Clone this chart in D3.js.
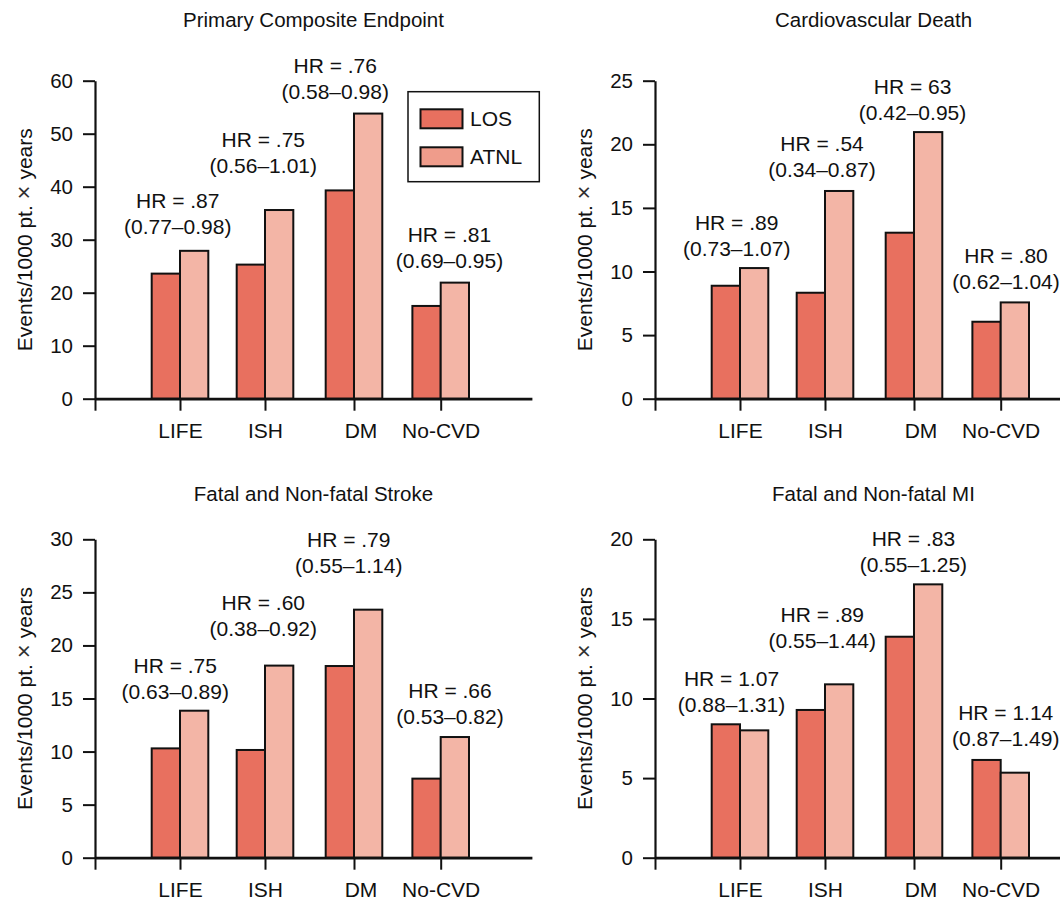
<!DOCTYPE html>
<html>
<head>
<meta charset="utf-8">
<script src="https://cdn.jsdelivr.net/npm/d3@7"></script>
<style>
  html, body { margin: 0; padding: 0; background: #fff; }
  svg { display: block; }
  text { font-family: "Liberation Sans", Arial, Helvetica, sans-serif; fill: #111; }
</style>
</head>
<body>
<div id="chart"></div>
<script>
// ---------- data ----------
const categories = ["LIFE", "ISH", "DM", "No-CVD"];
const catPos = [1, 2, 3.047, 4.067];
const seriesNames = ["LOS", "ATNL"];

const panelTitles = ["Primary Composite Endpoint", "Cardiovascular Death",
                     "Fatal and Non-fatal Stroke", "Fatal and Non-fatal MI"];
const yAxisTitleParts = ["Events/1000 pt. ", "\u00D7", " years"];

const yTicksPrimary = [0, 10, 20, 30, 40, 50, 60];
const yTicksCVDeath = [0, 5, 10, 15, 20, 25];
const yTicksStroke  = [0, 5, 10, 15, 20, 25, 30];
const yTicksMI      = [0, 5, 10, 15, 20];

const losPrimary  = [23.6, 25.3, 39.3, 17.5];
const atnlPrimary = [27.9, 35.6, 53.8, 21.9];
const losCVDeath  = [8.88, 8.33, 13.05, 6.05];
const atnlCVDeath = [10.27, 16.33, 20.96, 7.57];
const losStroke   = [10.3, 10.15, 18.06, 7.45];
const atnlStroke  = [13.85, 18.1, 23.37, 11.37];
const losMI       = [8.38, 9.28, 13.88, 6.14];
const atnlMI      = [8.0, 10.89, 17.17, 5.34];

const hrPrimary = ["HR = .87", "HR = .75", "HR = .76", "HR = .81"];
const ciPrimary = ["(0.77\u20130.98)", "(0.56\u20131.01)", "(0.58\u20130.98)", "(0.69\u20130.95)"];
const hrCVDeath = ["HR = .89", "HR = .54", "HR = 63", "HR = .80"];
const ciCVDeath = ["(0.73\u20131.07)", "(0.34\u20130.87)", "(0.42\u20130.95)", "(0.62\u20131.04)"];
const hrStroke  = ["HR = .75", "HR = .60", "HR = .79", "HR = .66"];
const ciStroke  = ["(0.63\u20130.89)", "(0.38\u20130.92)", "(0.55\u20131.14)", "(0.53\u20130.82)"];
const hrMI      = ["HR = 1.07", "HR = .89", "HR = .83", "HR = 1.14"];
const ciMI      = ["(0.88\u20131.31)", "(0.55\u20131.44)", "(0.55\u20131.25)", "(0.87\u20131.49)"];

// annotation anchors (x in category units, y in data units)
const hrAtXPrimary = [0.973, 1.98, 2.826, 4.17];
const hrAtYPrimary = [35.98, 47.55, 61.5, 29.6];
const hrAtXCVDeath = [0.961, 1.965, 3.03, 4.13];
const hrAtYCVDeath = [13.26, 19.47, 23.93, 10.64];
const hrAtXStroke  = [0.944, 1.98, 2.985, 4.176];
const hrAtYStroke  = [17.4, 23.37, 29.28, 15.09];
const hrAtXMI      = [0.9, 1.968, 3.04, 4.126];
const hrAtYMI      = [10.8, 14.78, 19.56, 8.66];

// ---------- layout ----------
const W = 1060, H = 900;
const colorLOS = "#e8705f";
const colorATNL = "#f3b5a6";
const colorATNLLegend = "#ef9c8b";

const svg = d3.select("#chart").append("svg").attr("width", W).attr("height", H);

const panels = [
  { title: panelTitles[0], ticks: yTicksPrimary, los: losPrimary, atnl: atnlPrimary, hr: hrPrimary, ci: ciPrimary, hx: hrAtXPrimary, hy: hrAtYPrimary, x0: 95,  yb: 398.7, yt: 80.7, ty: 27, legend: true },
  { title: panelTitles[1], ticks: yTicksCVDeath, los: losCVDeath, atnl: atnlCVDeath, hr: hrCVDeath, ci: ciCVDeath, hx: hrAtXCVDeath, hy: hrAtYCVDeath, x0: 655, yb: 398.7, yt: 80.7, ty: 27 },
  { title: panelTitles[2], ticks: yTicksStroke, los: losStroke, atnl: atnlStroke, hr: hrStroke, ci: ciStroke, hx: hrAtXStroke, hy: hrAtYStroke, x0: 95,  yb: 857.7, yt: 539.3, ty: 501 },
  { title: panelTitles[3], ticks: yTicksMI, los: losMI, atnl: atnlMI, hr: hrMI, ci: ciMI, hx: hrAtXMI, hy: hrAtYMI, x0: 655, yb: 857.7, yt: 539.3, ty: 501 }
];

const unit = 85;
const xDomainMax = 5.14;
const barW = 0.333;

panels.forEach(p => {
  const g = svg.append("g");
  const x = d3.scaleLinear().domain([0, xDomainMax]).range([p.x0, p.x0 + unit * xDomainMax]);
  const y = d3.scaleLinear().domain([0, d3.max(p.ticks)]).range([p.yb, p.yt]);

  // title
  g.append("text")
    .attr("x", p.x0 + 218.5)
    .attr("y", p.ty)
    .attr("text-anchor", "middle")
    .style("font-size", "20.5px")
    .text(p.title);

  // y-axis title
  const yt = g.append("text")
    .attr("transform", `translate(${p.x0 - 63},${(p.yb + p.yt) / 2}) rotate(-90)`)
    .attr("text-anchor", "middle")
    .style("font-size", "21px");
  yt.append("tspan").text(yAxisTitleParts[0]);
  yt.append("tspan").style("font-size", "24px").style("fill", "#333").text(yAxisTitleParts[1]);
  yt.append("tspan").text(yAxisTitleParts[2]);

  // bars
  const rows = categories.map((c, i) => ({ c, pos: catPos[i], los: p.los[i], atnl: p.atnl[i] }));
  const bw = x(barW) - x(0);
  g.selectAll("rect.los").data(rows).join("rect")
    .attr("class", "los")
    .attr("x", d => x(d.pos) - bw)
    .attr("y", d => y(d.los))
    .attr("width", bw)
    .attr("height", d => y(0) - y(d.los))
    .attr("fill", colorLOS)
    .attr("stroke", "#111")
    .attr("stroke-width", 2);
  g.selectAll("rect.atnl").data(rows).join("rect")
    .attr("class", "atnl")
    .attr("x", d => x(d.pos))
    .attr("y", d => y(d.atnl))
    .attr("width", bw)
    .attr("height", d => y(0) - y(d.atnl))
    .attr("fill", colorATNL)
    .attr("stroke", "#111")
    .attr("stroke-width", 2);

  // y axis
  const yAxis = d3.axisLeft(y).tickValues(p.ticks).tickSize(12).tickSizeOuter(0).tickPadding(10);
  const ya = g.append("g").attr("transform", `translate(${p.x0},0)`).call(yAxis);
  ya.select(".domain").attr("stroke", "#111").attr("stroke-width", 2.2);
  ya.selectAll(".tick line").attr("stroke", "#111").attr("stroke-width", 2);
  ya.selectAll(".tick text").style("font-size", "20.5px").attr("fill", "#111")
    .style("font-family", '"Liberation Sans", Arial, sans-serif');

  // x axis
  const xAxis = d3.axisBottom(x).tickValues([0].concat(catPos)).tickSize(12).tickSizeOuter(0).tickPadding(12.6)
    .tickFormat((d, i) => i === 0 ? "" : categories[i - 1]);
  const xa = g.append("g").attr("transform", `translate(0,${p.yb})`).call(xAxis);
  xa.select(".domain").attr("stroke", "#111").attr("stroke-width", 2.8);
  xa.selectAll(".tick line").attr("stroke", "#111").attr("stroke-width", 2);
  xa.selectAll(".tick text").style("font-size", "21px").attr("fill", "#111")
    .style("font-family", '"Liberation Sans", Arial, sans-serif')
    .attr("dx", (d, i) => i === 3 ? 6.5 : 0);

  // HR annotations
  categories.forEach((c, i) => {
    const t = g.append("text")
      .attr("text-anchor", "middle")
      .style("font-size", "21px");
    t.append("tspan").attr("x", x(p.hx[i])).attr("y", y(p.hy[i])).text(p.hr[i]);
    t.append("tspan").attr("x", x(p.hx[i])).attr("y", y(p.hy[i]) + 26).text(p.ci[i]);
  });

  // legend
  if (p.legend) {
    const lg = g.append("g");
    lg.append("rect").attr("x", 408).attr("y", 91.7).attr("width", 131.3).attr("height", 90)
      .attr("fill", "#fff").attr("stroke", "#111").attr("stroke-width", 1.5);
    const legendColors = [colorLOS, colorATNLLegend];
    seriesNames.forEach((s, i) => {
      lg.append("rect").attr("x", 420.5).attr("y", 109.3 + i * 38).attr("width", 42).attr("height", 19)
        .attr("fill", legendColors[i]).attr("stroke", "#111").attr("stroke-width", 2);
      lg.append("text").attr("x", 470).attr("y", 119 + i * 37.5).attr("dy", "0.35em")
        .style("font-size", "21px").text(s);
    });
  }
});
</script>
</body>
</html>
